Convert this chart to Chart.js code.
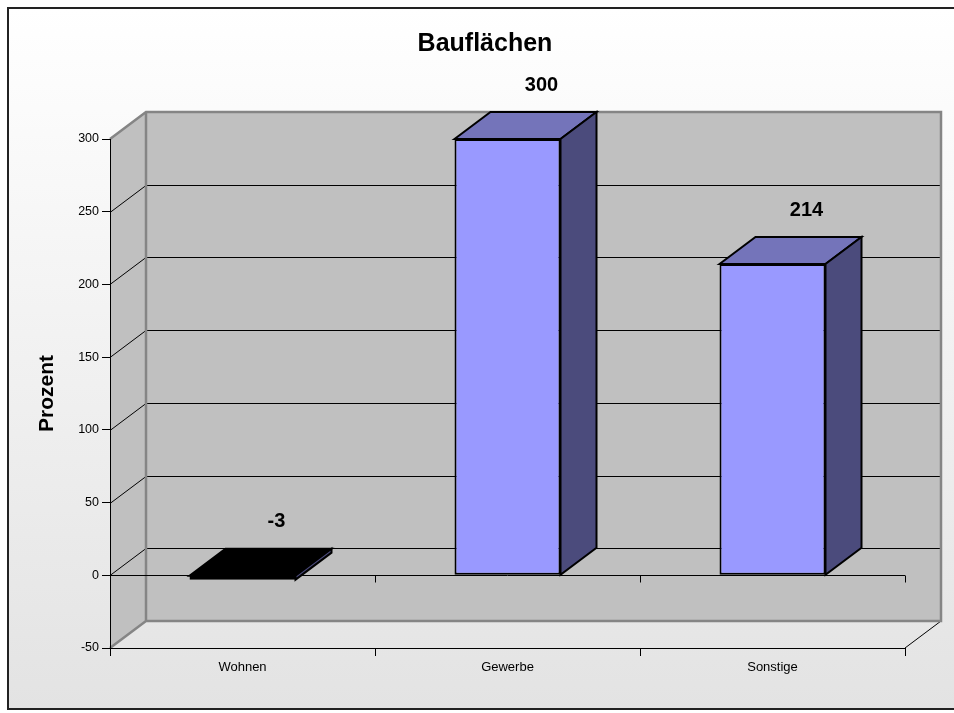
<!DOCTYPE html>
<html lang="de">
<head>
<meta charset="UTF-8">
<title>Bauflächen</title>
<script src="https://cdn.jsdelivr.net/npm/chart.js@4.4.1/dist/chart.umd.min.js"></script>
<style>
  html, body { margin: 0; padding: 0; background: #fff; }
  canvas { display: block; }
</style>
</head>
<body>
<canvas id="chart-bau" width="954" height="713"></canvas>
<script>
  // Kategorien und Werte in Prozent
  const categories = ["Wohnen", "Gewerbe", "Sonstige"];
  const values = [-3, 300, 214];
  const yTicks = [-50, 0, 50, 100, 150, 200, 250, 300];

  // 3D-Tiefe der Wände und Säulen (nach rechts / nach oben)
  const depthX = 36;
  const depthY = 27;

  Chart.defaults.font.family = '"Liberation Sans", Arial, sans-serif';
  Chart.defaults.color = "#000";

  // Hintergrund, Rahmen, Rück- und Seitenwand mit Gitterlinien
  const walls = {
    id: "walls",
    beforeDraw(chart) {
      const ctx = chart.ctx;
      const { left, right, top, bottom } = chart.chartArea;
      const yScale = chart.scales.y;

      ctx.save();
      ctx.fillStyle = "#fff";
      ctx.fillRect(0, 0, chart.width, chart.height);
      const grad = ctx.createLinearGradient(0, 8, 0, 709);
      grad.addColorStop(0, "#ffffff");
      grad.addColorStop(1, "#e3e3e3");
      ctx.fillStyle = grad;
      ctx.fillRect(8, 8, chart.width, 701);
      ctx.strokeStyle = "#222";
      ctx.lineWidth = 2;
      ctx.strokeRect(8, 8, chart.width + 10, 701);

      // Seitenwand
      ctx.fillStyle = "#c0c0c0";
      ctx.beginPath();
      ctx.moveTo(left, top);
      ctx.lineTo(left + depthX, top - depthY);
      ctx.lineTo(left + depthX, bottom - depthY);
      ctx.lineTo(left, bottom);
      ctx.closePath();
      ctx.fill();
      // Rückwand
      ctx.fillRect(left + depthX, top - depthY, right - left, bottom - top);

      // Gitterlinien
      ctx.strokeStyle = "#000";
      ctx.lineWidth = 1;
      yScale.ticks.forEach((t) => {
        if (t.value === yScale.min || t.value === yScale.max) return;
        const py = Math.round(yScale.getPixelForValue(t.value)) + 0.5;
        ctx.beginPath();
        ctx.moveTo(left, py);
        ctx.lineTo(left + depthX, py - depthY);
        ctx.lineTo(right + depthX, py - depthY);
        ctx.stroke();
      });

      // Boden rechts
      ctx.beginPath();
      ctx.moveTo(right, bottom);
      ctx.lineTo(right + depthX, bottom - depthY);
      ctx.stroke();

      // Kanten der Wände
      ctx.strokeStyle = "#858585";
      ctx.lineWidth = 2.5;
      ctx.beginPath();
      ctx.moveTo(left, top);
      ctx.lineTo(left + depthX, top - depthY);
      ctx.lineTo(right + depthX, top - depthY);
      ctx.lineTo(right + depthX, bottom - depthY);
      ctx.lineTo(left + depthX, bottom - depthY);
      ctx.lineTo(left, bottom);
      ctx.moveTo(left + depthX, top - depthY);
      ctx.lineTo(left + depthX, bottom - depthY);
      ctx.stroke();

      // Nulllinie mit Teilstrichen
      const y0 = Math.round(yScale.getPixelForValue(0)) + 0.5;
      const step = (right - left) / categories.length;
      ctx.strokeStyle = "#000";
      ctx.lineWidth = 1;
      ctx.beginPath();
      ctx.moveTo(left, y0);
      ctx.lineTo(right, y0);
      for (let i = 1; i <= categories.length; i++) {
        const px = Math.round(left + i * step) + 0.5;
        ctx.moveTo(px, y0);
        ctx.lineTo(px, y0 + 7);
      }
      ctx.stroke();
      ctx.restore();
    },
  };

  // Deck- und Seitenflächen der Säulen, Wertbeschriftung
  const bars3d = {
    id: "bars3d",
    afterDatasetsDraw(chart) {
      const ctx = chart.ctx;
      const yScale = chart.scales.y;
      const meta = chart.getDatasetMeta(0);
      ctx.save();
      ctx.lineWidth = 2;
      ctx.strokeStyle = "#000";
      ctx.lineJoin = "miter";
      meta.data.forEach((bar, i) => {
        const { x, y, base, width } = bar.getProps(["x", "y", "base", "width"], true);
        const l = x - width / 2;
        const r = x + width / 2;
        const t = Math.min(y, base);
        const b = Math.max(y, base);

        ctx.fillStyle = values[i] < 0 ? "#000" : "#7474ba";
        ctx.beginPath();
        ctx.moveTo(l, t);
        ctx.lineTo(l + depthX, t - depthY);
        ctx.lineTo(r + depthX, t - depthY);
        ctx.lineTo(r, t);
        ctx.closePath();
        ctx.fill();
        ctx.stroke();

        ctx.fillStyle = "#4b4b7c";
        ctx.beginPath();
        ctx.moveTo(r, t);
        ctx.lineTo(r + depthX, t - depthY);
        ctx.lineTo(r + depthX, b - depthY);
        ctx.lineTo(r, b);
        ctx.closePath();
        ctx.fill();
        ctx.stroke();

        ctx.fillStyle = "#000";
        ctx.font = 'bold 20px "Liberation Sans", Arial, sans-serif';
        ctx.textAlign = "center";
        ctx.textBaseline = "middle";
        const ly = yScale.getPixelForValue(Math.max(values[i], 0)) - depthY - 27;
        ctx.fillText(String(values[i]), x + 34, ly);
      });
      ctx.restore();
    },
  };

  const data = {
    labels: categories,
    datasets: [
      {
        label: "Bauflächen",
        data: values,
        backgroundColor: "#9999ff",
        borderColor: "#000",
        borderWidth: 2,
        borderSkipped: false,
        barPercentage: 0.4,
        categoryPercentage: 1,
      },
    ],
  };

  const config = {
    type: "bar",
    data: data,
    plugins: [walls, bars3d],
    options: {
      responsive: false,
      animation: false,
      layout: { padding: { left: 65, right: 49, top: 8, bottom: 10 } },
      plugins: {
        legend: { display: false },
        tooltip: { enabled: false },
        title: {
          display: true,
          text: "Bauflächen",
          color: "#000",
          font: { size: 25, weight: "bold" },
          padding: { top: 21, bottom: 80 },
        },
      },
      scales: {
        x: {
          grid: { display: true, drawOnChartArea: false, color: "#000", tickLength: 8, offset: true },
          border: { display: true, color: "#000", width: 1 },
          ticks: { color: "#000", font: { size: 13 }, padding: 4, maxRotation: 0 },
          afterFit(scale) { scale.height = 55; },
        },
        y: {
          min: yTicks[0],
          max: yTicks[yTicks.length - 1],
          afterBuildTicks(scale) { scale.ticks = yTicks.map((v) => ({ value: v })); },
          grid: { drawOnChartArea: false, color: "#000", tickLength: 8 },
          border: { display: true, color: "#000", width: 1 },
          ticks: { color: "#000", font: { size: 12.5 }, padding: 3 },
          title: {
            display: true,
            text: "Prozent",
            color: "#000",
            font: { size: 21, weight: "bold" },
            padding: { top: -30, bottom: 0 },
          },
          afterFit(scale) { scale.width = 45; },
        },
      },
    },
  };

  const chart = new Chart(document.getElementById("chart-bau"), config);
</script>
</body>
</html>
